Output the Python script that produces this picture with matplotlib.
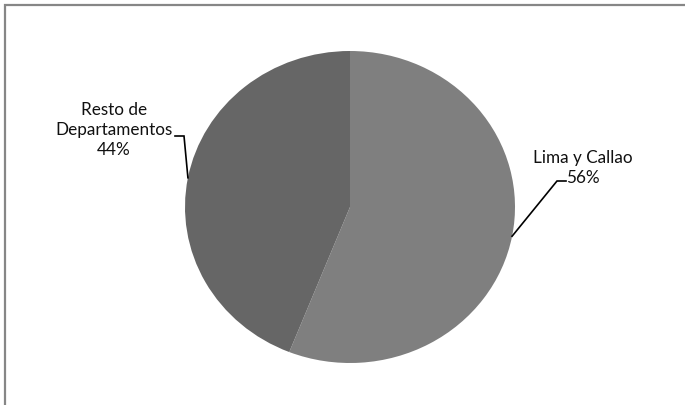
import numpy as np
import matplotlib
matplotlib.use("Agg")
import matplotlib.pyplot as plt
from matplotlib.patches import Rectangle

# Distribution of the total, in percent
categories = ["Lima y Callao", "Resto de\nDepartamentos"]
shares = [56, 44]
colors = ["#7f7f7f", "#666666"]

W, H = 685, 405
fig = plt.figure(figsize=(W / 100, H / 100), dpi=100)
fig.patch.set_facecolor("white")

def px(x, y):
    """Pixel position (from top-left) to figure fraction."""
    return x / W, 1 - y / H

# Chart frame (only its top and left sides fall inside the image)
x0, y0 = px(4.5, 420)
fig.patches.append(Rectangle((x0, y0), (700 - 4.5) / W, (420 - 5) / H,
                             transform=fig.transFigure, fill=False,
                             edgecolor="#868686", linewidth=1.6))

# Plot area holding the (slightly stretched) pie
left, right, top, bottom = 185, 515, 51, 363
ax = fig.add_axes([left / W, 1 - bottom / H, (right - left) / W, (bottom - top) / H])
wedges, _ = ax.pie(shares, colors=colors, startangle=90, counterclock=False,
                   radius=1.0, wedgeprops=dict(linewidth=0))
ax.set_aspect("auto")
ax.set_xlim(-1, 1)
ax.set_ylim(-1, 1)
ax.axis("off")

font = dict(family=["Lato", "DejaVu Sans"], fontsize=12.3, color="#111111")

def to_data(xp, yp):
    """Pixel position to this axes' data coordinates."""
    return ((xp - left) / (right - left) * 2 - 1,
            1 - (yp - top) / (bottom - top) * 2)

# Labels with elbow leader lines to the middle of each slice
label_specs = [
    # text centre (px), elbow (px), line end next to text (px)
    dict(text=(583, 168), elbow=(557, 181), end=(566, 181)),
    dict(text=(114, 130), elbow=(184, 136), end=(175, 136)),
]
for w, cat, share, spec in zip(wedges, categories, shares, label_specs):
    mid = np.deg2rad((w.theta1 + w.theta2) / 2)
    tip = (np.cos(mid), np.sin(mid))
    ex, ey = to_data(*spec["elbow"])
    nx, ny = to_data(*spec["end"])
    ax.plot([tip[0], ex, nx], [tip[1], ey, ny], color="black", lw=1.2,
            clip_on=False, solid_joinstyle="miter")
    tx, ty = to_data(*spec["text"])
    ax.text(tx, ty, f"{cat}\n{share}%", ha="center", va="center",
            linespacing=1.3, **font)

fig.savefig("out.png", dpi=100, facecolor="white")
